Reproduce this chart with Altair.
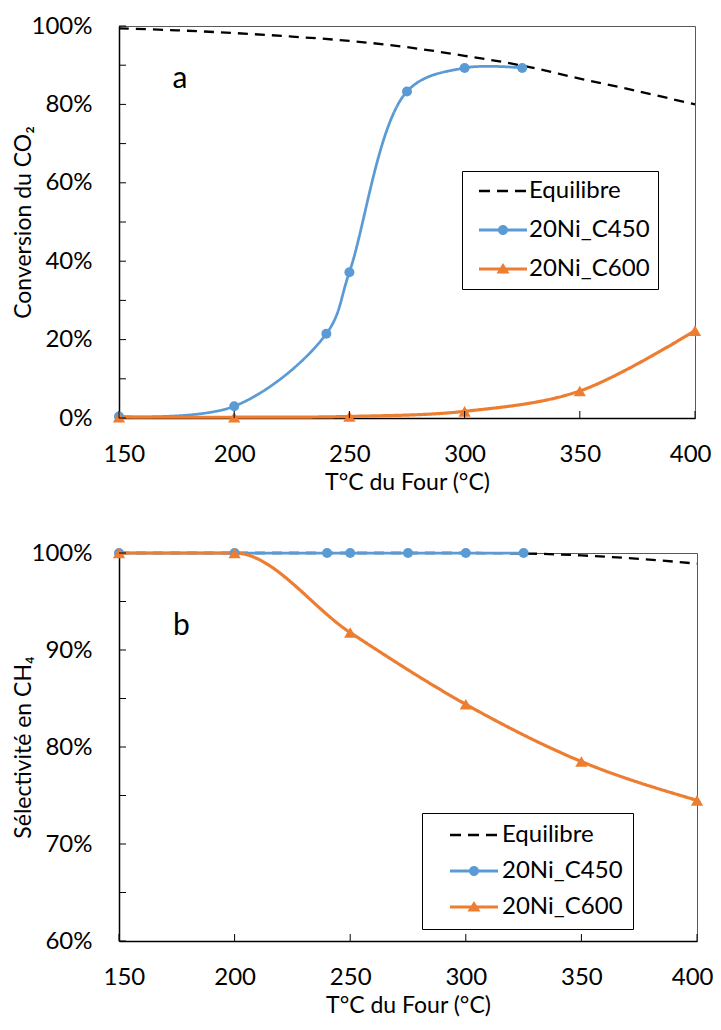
import altair as alt
import pandas as pd

SERIES = ["Equilibre", "20Ni_C450", "20Ni_C600"]
COLORS = ["#000000", "#5B9BD5", "#ED7D31"]

X_TICKS = [150, 200, 250, 300, 350, 400]

# Panel a: CO2 conversion (%)
T_EQ = [150, 175, 200, 225, 250, 275, 300, 325, 350, 375, 400]
CONV_EQ = [99.4, 98.9, 98.2, 97.3, 96.2, 94.6, 92.4, 89.9, 86.6, 83.4, 80.0]
T_C450 = [150, 200, 240, 250, 275, 300, 325]
CONV_C450 = [0.4, 3.0, 21.5, 37.2, 83.3, 89.3, 89.3]
T_C600 = [150, 200, 250, 300, 350, 400]
CONV_C600 = [0.2, 0.2, 0.4, 1.7, 6.9, 22.3]

# Panel b: CH4 selectivity (%)
T_EQ_B = [150, 200, 250, 300, 325, 350, 375, 400]
SEL_EQ = [100.0, 100.0, 100.0, 100.0, 99.95, 99.75, 99.4, 98.9]
SEL_C450 = [100.0, 100.0, 100.0, 100.0, 100.0, 100.0, 100.0]
SEL_C600 = [100.0, 100.0, 91.8, 84.4, 78.5, 74.5]

A_LABELS = [0, 20, 40, 60, 80, 100]
A_TICKS = [0, 10, 20, 30, 40, 50, 60, 70, 80, 90, 100]
B_LABELS = [60, 70, 80, 90, 100]
B_TICKS = [60, 65, 70, 75, 80, 85, 90, 95, 100]

FONT = "Lato"

# legend glyphs (line + marker), pixel units with symbolSize=4
LEGEND_PATHS = [
    "M-24,-1.2H-13V1.2H-24Z M-6,-1.2H5V1.2H-6Z M12,-1.2H23V1.2H12Z",
    "M-24,-1.6H24V1.6H-24Z M5,0A5,5 0 1,1 -5,0A5,5 0 1,1 5,0Z",
    "M-24,-1.6H24V1.6H-24Z M0,-6L6.5,4.5L-6.5,4.5Z",
]


def long_df(parts):
    rows = []
    for name, ts, vs in parts:
        for t, v in zip(ts, vs):
            rows.append({"T": t, "v": v, "series": name})
    return pd.DataFrame(rows)


def panel(df, ydom, ylabels, yticks, ytitle, letter, letter_t, letter_v,
          w, h, interp, lx, ly, pad, row_pad, sym_off, label_off):
    xscale = alt.Scale(domain=[150, 400], nice=False, zero=False)
    yscale = alt.Scale(domain=ydom, nice=False, zero=False)
    xaxis = alt.Axis(values=X_TICKS, ticks=False, grid=False, labelFlush=True,
                     labelFlushOffset=16,
                     title="T°C du Four (°C)", labelPadding=24, titlePadding=5)
    yaxis = alt.Axis(values=ylabels, labelExpr="datum.value + '%'", ticks=False,
                     grid=False, title=ytitle, labelPadding=27, titlePadding=-4)
    bx = alt.X("T:Q", scale=xscale, axis=xaxis)
    by = alt.Y("v:Q", scale=yscale, axis=yaxis)

    lines = alt.Chart(df).mark_line(interpolate=interp).encode(
        x=bx, y=by,
        stroke=alt.Stroke("series:N", scale=alt.Scale(domain=SERIES, range=COLORS), legend=None),
        strokeDash=alt.StrokeDash("series:N", scale=alt.Scale(domain=SERIES, range=[[10, 7], [1, 0], [1, 0]]), legend=None),
        strokeWidth=alt.StrokeWidth("series:N", scale=alt.Scale(domain=SERIES, range=[2.3, 3.2, 3.2]), legend=None),
    )
    circ = alt.Chart(df).transform_filter(alt.datum.series == "20Ni_C450").mark_point(
        shape="circle", filled=True, opacity=1, size=100, color=COLORS[1]
    ).encode(x=bx, y=by)
    tri = alt.Chart(df).transform_filter(alt.datum.series == "20Ni_C600").mark_point(
        shape="triangle-up", filled=True, opacity=1, size=150, color=COLORS[2]
    ).encode(x=bx, y=by)

    xt = alt.Chart(pd.DataFrame({"T": X_TICKS})).mark_rule(color="black", strokeWidth=1).encode(
        x=bx, y=alt.value(h), y2=alt.value(h - 7))
    yt = alt.Chart(pd.DataFrame({"v": yticks})).mark_rule(color="black", strokeWidth=1).encode(
        y=by, x=alt.value(0), x2=alt.value(7))

    txt = alt.Chart(pd.DataFrame({"T": [letter_t], "v": [letter_v], "label": [letter]})).mark_text(
        font=FONT, fontSize=30, color="black", align="center", baseline="middle"
    ).encode(x=bx, y=by, text="label:N")

    leg = alt.Legend(title=None, orient="none", legendX=lx, legendY=ly, padding=pad,
                     fillColor="white", strokeColor="black",
                     labelFont=FONT, labelFontSize=24, labelColor="black", labelLimit=400,
                     symbolSize=4, symbolStrokeWidth=0, rowPadding=row_pad,
                     labelOffset=label_off, symbolOffset=sym_off)
    legend_layer = alt.Chart(df).transform_filter(alt.datum.series == "none").mark_point(
        filled=True, opacity=1).encode(
        x=bx, y=by,
        fill=alt.Fill("series:N", scale=alt.Scale(domain=SERIES, range=COLORS), legend=leg),
        shape=alt.Shape("series:N", scale=alt.Scale(domain=SERIES, range=LEGEND_PATHS), legend=leg),
    )
    return alt.layer(lines, circ, tri, xt, yt, txt, legend_layer).properties(width=w, height=h)


df_a = long_df([("Equilibre", T_EQ, CONV_EQ), ("20Ni_C450", T_C450, CONV_C450),
                ("20Ni_C600", T_C600, CONV_C600)])
df_b = long_df([("Equilibre", T_EQ_B, SEL_EQ), ("20Ni_C450", T_C450, SEL_C450),
                ("20Ni_C600", T_C600, SEL_C600)])

top = panel(df_a, [0, 100], A_LABELS, A_TICKS, "Conversion du CO₂", "a", 176.5, 86.4,
            576, 392, "catmull-rom", 343, 145, 8, 15, 21, 14)
bottom = panel(df_b, [60, 100], B_LABELS, B_TICKS, "Sélectivité en CH₄", "b", 177, 92.5,
               578, 388, "monotone", 303, 260, 10, 12, 30, 16)

chart = alt.vconcat(top, bottom, spacing=45).resolve_scale(
    fill="independent", shape="independent"
).properties(
    padding={"left": 3, "top": 5, "right": -1, "bottom": 0}
).configure_view(stroke="#595959", strokeWidth=1).configure_axis(
    domainColor="black", domainWidth=1.5,
    labelFont=FONT, labelFontSize=24, labelColor="black",
    titleFont=FONT, titleFontSize=23, titleFontWeight="normal", titleColor="black",
)

chart.save("out.html", embed_options={"renderer": "svg", "actions": False})
